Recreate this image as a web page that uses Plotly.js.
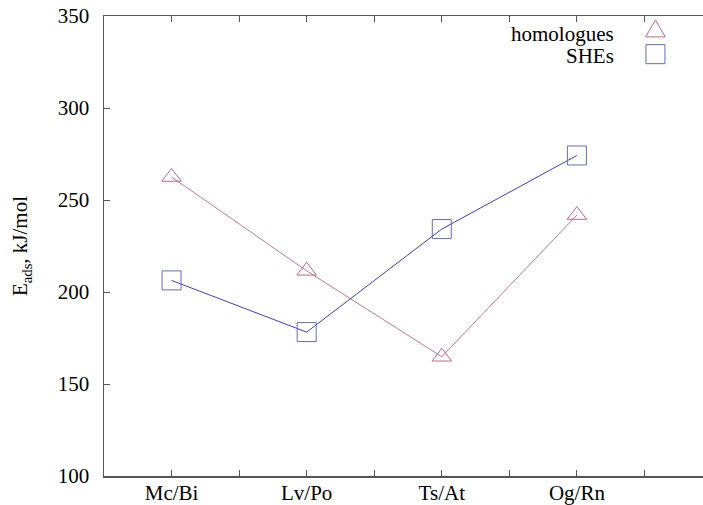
<!DOCTYPE html>
<html>
<head>
<meta charset="utf-8">
<script src="https://cdn.plot.ly/plotly-3.0.1.min.js"></script>
<style>
html, body { margin:0; padding:0; overflow:hidden; background:#fff; }
#chart { width:720px; height:505px; }
</style>
</head>
<body>
<div id="chart"></div>
<script>
var categories = ["Mc/Bi", "Lv/Po", "Ts/At", "Og/Rn"];
var positions = [1, 2, 3, 4];
var homologues = [262.5, 211.5, 164.8, 241.8];
var shes = [206.3, 178.2, 234.2, 274.2];
var seriesNames = ["homologues", "SHEs"];
var yTicks = [100, 150, 200, 250, 300, 350];

var pink = "#c0688a";
var pinkLine = "#c07890";
var blueMarker = "#6a6ab8";
var blueLine = "#3c3cd2";
var axisColor = "#555555";
var font = "Liberation Serif, Times New Roman, serif";
var fs = 21;

var traces = [
  {
    x: positions, y: homologues, type: "scatter", mode: "lines+markers",
    name: seriesNames[0],
    line: {color: pinkLine, width: 1},
    marker: {symbol: "triangle-up-open", size: 17, color: pink, line: {width: 1, color: pink}},
    showlegend: false, hoverinfo: "skip"
  },
  {
    x: positions, y: shes, type: "scatter", mode: "lines+markers",
    name: seriesNames[1],
    line: {color: blueLine, width: 1},
    marker: {symbol: "square-open", size: 19, color: blueMarker, line: {width: 1, color: blueMarker}},
    showlegend: false, hoverinfo: "skip"
  }
];

var layout = {
  width: 720, height: 505,
  margin: {l: 104, r: 7.5, t: 16, b: 29},
  paper_bgcolor: "#fff", plot_bgcolor: "#fff",
  font: {family: font, size: fs, color: "#000"},
  xaxis: {
    range: [0.5, 5], tickmode: "array", tickvals: positions, ticktext: categories,
    ticks: "inside", ticklen: 6, tickwidth: 1, tickcolor: axisColor,
    minor: {ticks: "inside", ticklen: 6, tickwidth: 1, tickcolor: axisColor, tick0: 0.5, dtick: 0.5, showgrid: false},
    showline: true, linecolor: axisColor, linewidth: 1.5, mirror: "ticks",
    showgrid: false, zeroline: false, fixedrange: true,
    ticklabelstandoff: -3,
    tickfont: {family: font, size: fs, color: "#000"}
  },
  yaxis: {
    range: [100, 350], tickmode: "array", tickvals: yTicks,
    ticks: "inside", ticklen: 6, tickwidth: 1, tickcolor: axisColor,
    showline: true, linecolor: axisColor, linewidth: 1.5, mirror: "ticks",
    showgrid: false, zeroline: false, fixedrange: true,
    ticklabelstandoff: 9,
    tickfont: {family: font, size: fs, color: "#000"},
    title: {text: "E<sub>ads</sub>, kJ/mol", font: {family: font, size: fs, color: "#000"}, standoff: 24}
  },
  annotations: [
    {xref: "paper", yref: "paper", x: 0.842, y: 0.960, xanchor: "right", yanchor: "middle",
     text: seriesNames[0], showarrow: false, font: {family: font, size: fs, color: "#000"}},
    {xref: "paper", yref: "paper", x: 0.842, y: 0.913, xanchor: "right", yanchor: "middle",
     text: seriesNames[1], showarrow: false, font: {family: font, size: fs, color: "#000"}}
  ],
  shapes: [
    {type: "path", xref: "paper", yref: "paper", xsizemode: "pixel", ysizemode: "pixel",
     xanchor: 0.907, yanchor: 0.967,
     path: "M -9.8,-5.7 L 9.8,-5.7 L 0,11.3 Z",
     line: {color: pink, width: 1}, fillcolor: "rgba(0,0,0,0)"},
    {type: "rect", xref: "paper", yref: "paper", xsizemode: "pixel", ysizemode: "pixel",
     xanchor: 0.907, yanchor: 0.917, x0: -9.5, x1: 9.5, y0: -9.5, y1: 9.5,
     line: {color: blueMarker, width: 1}, fillcolor: "rgba(0,0,0,0)"}
  ]
};

Plotly.newPlot("chart", traces, layout, {displayModeBar: false, staticPlot: true});
</script>
</body>
</html>
